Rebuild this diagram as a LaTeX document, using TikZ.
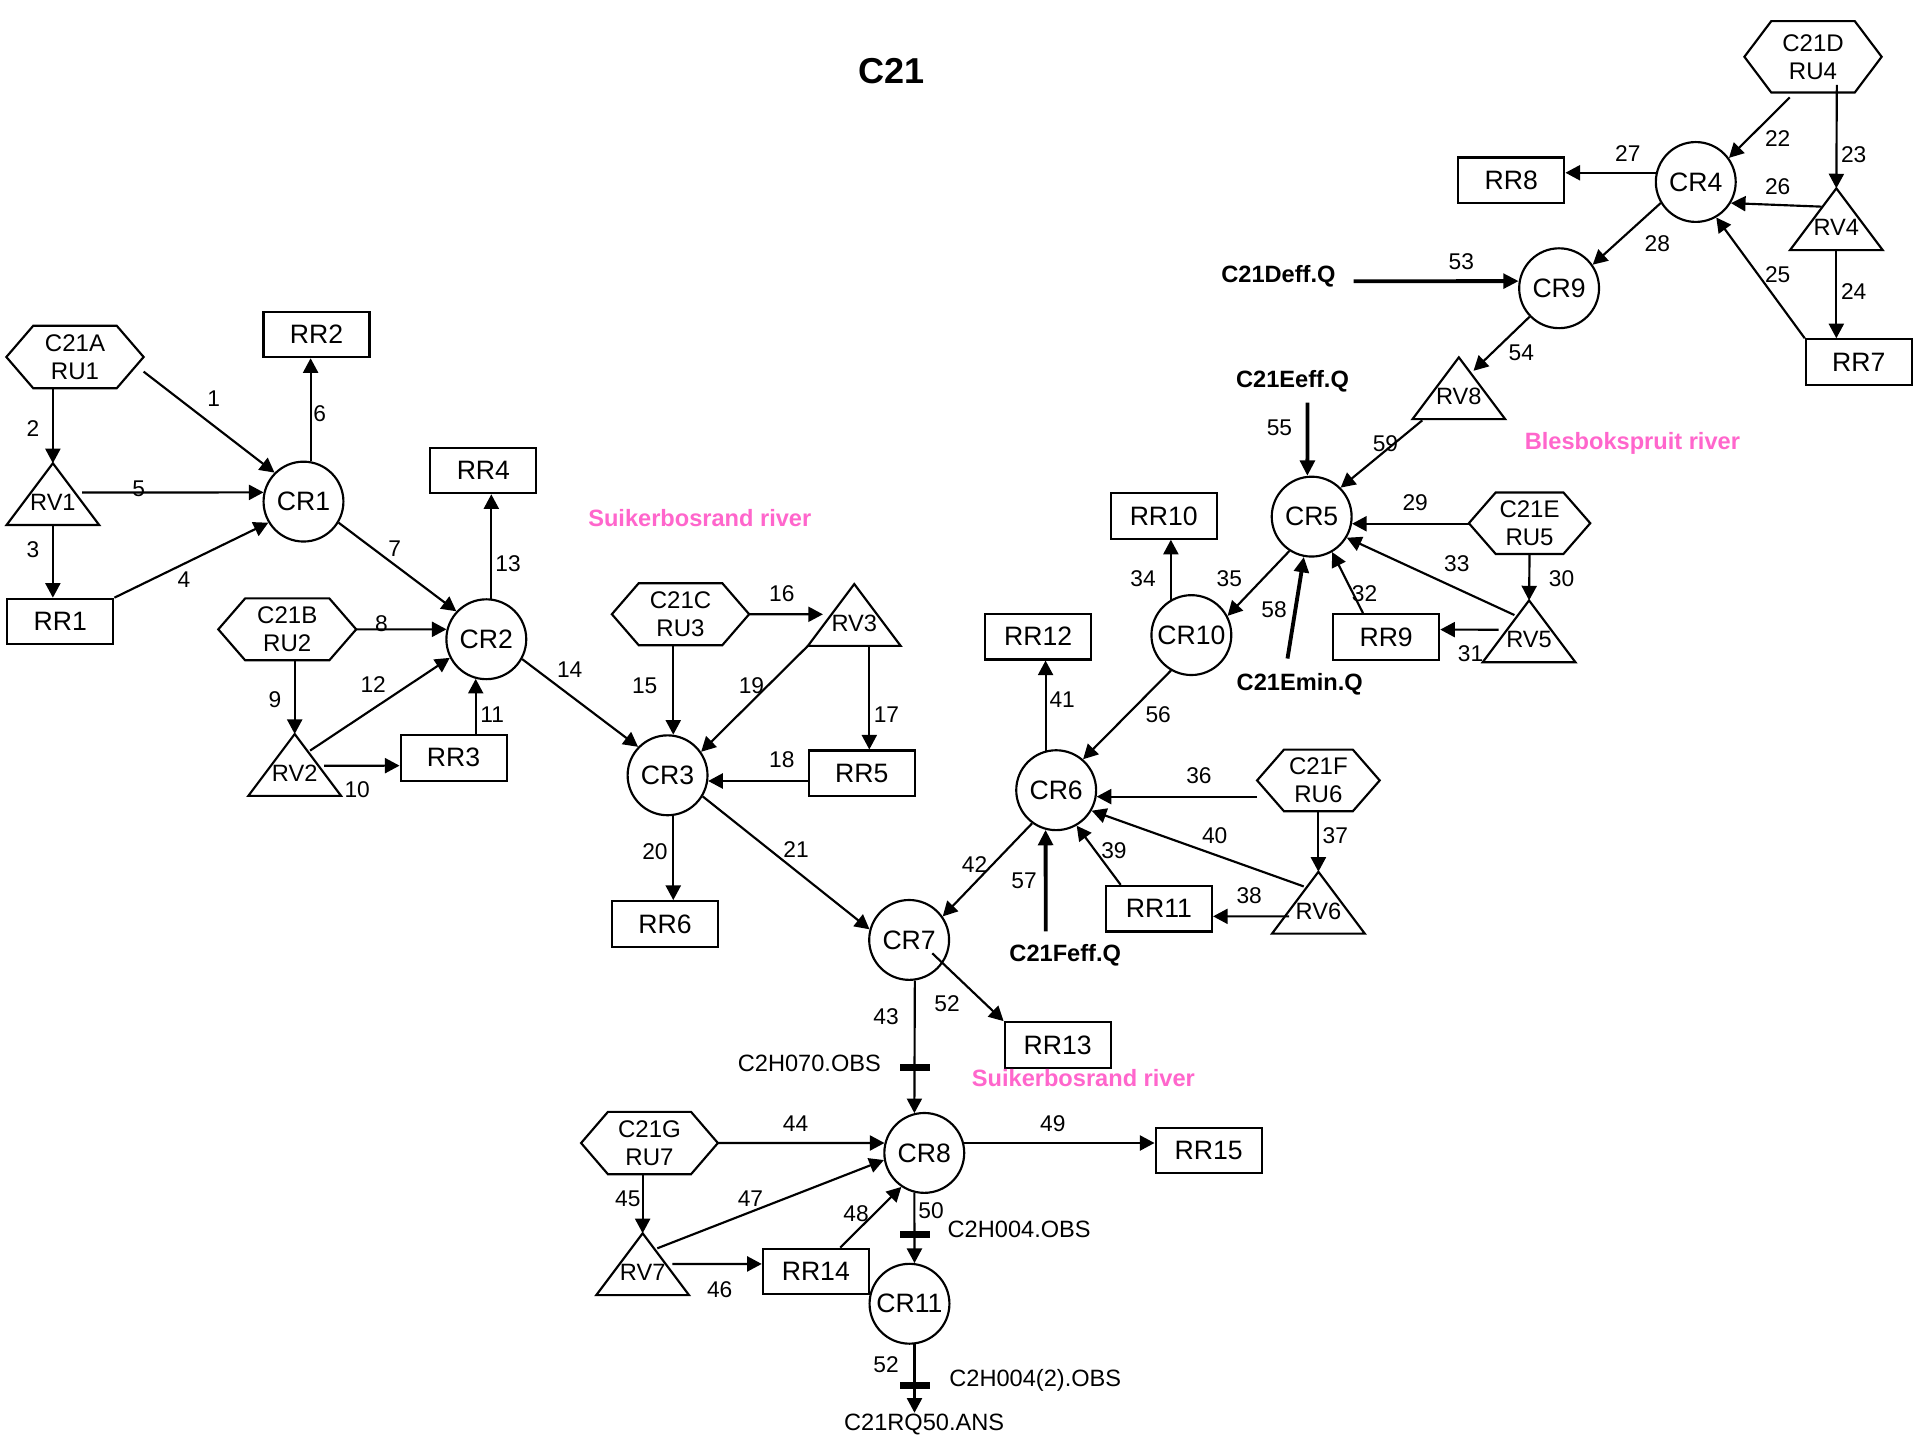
\documentclass[tikz,border=0pt]{standalone}
\usepackage{fontspec}
\setmainfont{Liberation Sans}
\usetikzlibrary{arrows.meta,calc}
\definecolor{riverpink}{HTML}{FF66CC}
\tikzset{
  shp/.style={line width=0.5pt},
  arrowline/.style={line width=0.5pt, -{Triangle[length=3.4pt,width=3.5pt]}},
  thickline/.style={line width=0.9pt, -{Triangle[length=3.6pt,width=3.4pt]}},
  cr/.style={circle, draw, line width=0.5pt, minimum size=6.54mm, inner sep=0pt, font=\fontsize{6.2}{7}\selectfont},
  rr/.style={rectangle, draw, line width=0.5pt, minimum width=8.68mm, minimum height=3.73mm, inner sep=0pt, font=\fontsize{6.2}{7}\selectfont},
  hexbox/.style={rectangle, inner sep=0pt, align=center, font=\fontsize{5.6}{6.5}\selectfont},
  tribox/.style={rectangle, inner sep=0pt, minimum width=7.45mm, minimum height=4.92mm},
  trilabel/.style={inner sep=0pt, font=\fontsize{5.5}{6}\selectfont},
  num/.style={inner sep=0pt, font=\fontsize{5.3}{6}\selectfont},
  obs/.style={inner sep=0pt, font=\fontsize{5.5}{6.5}\selectfont},
  inflow/.style={inner sep=0pt, font=\bfseries\fontsize{5.5}{6.5}\selectfont},
  river/.style={inner sep=0pt, text=riverpink, font=\bfseries\fontsize{5.5}{6.5}\selectfont},
  gauge/.style={rectangle, fill=black, inner sep=0pt, minimum width=2.45mm, minimum height=0.58mm},
}
% hexagon: name, x, y, width (mm), height (mm), text
\newcommand\hexnode[6]{%
  \node[hexbox, minimum width=#4mm, minimum height=#5mm] (#1) at (#2,#3) {#6};
  \draw[shp] (#1.west) -- ([xshift=2.2mm]#1.north west) -- ([xshift=-2.2mm]#1.north east)
    -- (#1.east) -- ([xshift=-2.2mm]#1.south east) -- ([xshift=2.2mm]#1.south west) -- cycle;
}
% triangle: name, apex x, apex y, text
\newcommand\trinode[4]{%
  \node[tribox, anchor=north] (#1) at (#2,#3) {};
  \draw[shp] (#1.north) -- (#1.south east) -- (#1.south west) -- cycle;
  \node[trilabel] (#1t) at ([yshift=-0.68mm]#1.center) {#4};
}
\begin{document}
\begin{tikzpicture}[x=0.1mm, y=-0.1mm]
\fill[white] (0,0) rectangle (1568,1179.1);
\useasboundingbox (0,0) rectangle (1568,1179.1);

\node[inner sep=0pt, font=\bfseries\fontsize{8.4}{10}\selectfont] (title) at (730,58) {C21};

% runoff units
\hexnode{A1}{61.4}{292.3}{11.1}{4.97}{C21A\\RU1}
\hexnode{B1}{235.2}{515.3}{11.15}{4.93}{C21B\\RU2}
\hexnode{C1}{557.2}{502.9}{11.1}{4.94}{C21C\\RU3}
\hexnode{D1}{1484.5}{46.5}{11.1}{5.7}{C21D\\RU4}
\hexnode{E1}{1252.4}{428.4}{9.8}{4.9}{C21E\\RU5}
\hexnode{F1}{1079.5}{639}{9.9}{4.9}{C21F\\RU6}
\hexnode{G1}{531.8}{935.9}{11.06}{4.97}{C21G\\RU7}

% reservoirs
\trinode{RV1}{43.3}{379.3}{RV1}
\trinode{RV2}{241.3}{601}{RV2}
\trinode{RV3}{699.5}{478.2}{RV3}
\trinode{RV4}{1503.6}{154.2}{RV4}
\trinode{RV5}{1252}{491.6}{RV5}
\trinode{RV6}{1079.5}{713.8}{RV6}
\trinode{RV7}{526.2}{1009.8}{RV7}
\trinode{RV8}{1194.5}{292.6}{RV8}

% channel reaches
\node[cr] (CR1) at (248.5,410.7) {CR1};
\node[cr] (CR2) at (398.2,523.4) {CR2};
\node[cr] (CR3) at (546.6,634.8) {CR3};
\node[cr] (CR4) at (1388.5,149) {CR4};
\node[cr] (CR5) at (1074,423) {CR5};
\node[cr] (CR6) at (864.8,647) {CR6};
\node[cr] (CR7) at (744.4,769.6) {CR7};
\node[cr] (CR8) at (756.8,944) {CR8};
\node[cr] (CR9) at (1276.6,236) {CR9};
\node[cr] (CR10) at (975.5,520) {CR10};
\node[cr] (CR11) at (744.7,1067.5) {CR11};

% return routes
\node[rr] (RR1) at (49.4,508.9) {RR1};
\node[rr] (RR2) at (259.2,273.8) {RR2};
\node[rr] (RR3) at (371.4,620.5) {RR3};
\node[rr] (RR4) at (395.8,385.2) {RR4};
\node[rr] (RR5) at (705.6,633.2) {RR5};
\node[rr] (RR6) at (544.5,756.5) {RR6};
\node[rr] (RR7) at (1522,296.5) {RR7};
\node[rr] (RR8) at (1237.5,147.6) {RR8};
\node[rr] (RR9) at (1135,521.5) {RR9};
\node[rr] (RR10) at (952.9,422.4) {RR10};
\node[rr] (RR11) at (949,744) {RR11};
\node[rr] (RR12) at (850,521.3) {RR12};
\node[rr] (RR13) at (866,855.6) {RR13};
\node[rr] (RR14) at (668,1041) {RR14};
\node[rr] (RR15) at (989.6,942) {RR15};

% external inflows and outputs
\node[inflow] (Deff) at (1046.8,226) {C21Deff.Q};
\node[inflow] (Eeff) at (1058.3,312.5) {C21Eeff.Q};
\node[inflow] (Emin) at (1064.2,560.3) {C21Emin.Q};
\node[inflow] (Feff) at (872.2,782.5) {C21Feff.Q};
\node[obs] (obs1) at (662.7,870.6) {C2H070.OBS};
\node[obs] (obs2) at (834.5,1006.6) {C2H004.OBS};
\node[obs] (obs3) at (847.7,1129.9) {C2H004(2).OBS};
\node[obs] (ANS) at (756.7,1166) {C21RQ50.ANS};
\coordinate (s53) at (1108.3,230.3);
\coordinate (s55) at (1070.6,329.7);
\coordinate (s57) at (856.3,762.6);
\coordinate (s58) at (1054.2,539.2);

% river names
\node[river] (riv1) at (573,424) {Suikerbosrand river};
\node[river] (riv2) at (1336.6,363) {Blesbokspruit river};
\node[river] (riv3) at (887.1,882.9) {Suikerbosrand river};

% connectors
\draw[arrowline] ($(A1.east)+(0,12)$) -- (CR1.135);
\draw[arrowline] (RV1.north |- A1.south) -- (RV1.north);
\draw[arrowline] (RV1.south) -- (RV1.south |- RR1.north);
\draw[arrowline] (RR1.north east) -- (CR1.211);
\draw[arrowline] ($(RV1.north)+(24,24)$) -- (CR1.167);
\draw[arrowline] (CR1.80) -- (CR1.80 |- RR2.south);
\draw[arrowline] (CR1.329) -- (CR2.137);
\draw[arrowline] (B1.east) -- (CR2.166);
\draw[arrowline] (RV2.north |- B1.south) -- (RV2.north);
\draw[arrowline] ($(RV2.north)+(24,26)$) -- ($(RR3.west)+(0,6.4)$);
\draw[arrowline] (CR2.255 |- RR3.north) -- (CR2.255);
\draw[arrowline] ($(RV2.north)+(12.6,13.6)$) -- (CR2.207);
\draw[arrowline] (CR2.83) -- (CR2.83 |- RR4.south);
\draw[arrowline] (CR2.331) -- (CR3.136);
\draw[arrowline] (CR3.82 |- C1.south) -- (CR3.82);
\draw[arrowline] (C1.east) -- ($(RV3.north)+(-25.7,24.8)$);
\draw[arrowline] ($(RV3.south)+(12.3,0)$) -- ($(RR5.north)+(6.2,0)$);
\draw[arrowline] (RR5.west |- CR3.352) -- (CR3.352);
\draw[arrowline] (RV3.south west) -- (CR3.35);
\draw[arrowline] (CR3.278) -- (CR3.278 |- RR6.north);
\draw[arrowline] (CR3.329) -- (CR7.165);
\draw[arrowline] ($(D1.south)+(-19,4)$) -- (CR4.36);
\draw[arrowline] ($(D1.center)+(19.5,23)$) -- (RV4.north);
\draw[arrowline] (RV4.south) -- (RV4.south |- RR7.north);
\draw[arrowline] (RR7.north west) -- (CR4.300);
\draw[arrowline] ($(RV4.north)+(-12,15)$) -- (CR4.329);
\draw[arrowline] (CR4.167) -- (CR4.167 -| RR8.east);
\draw[arrowline] (CR4.211) -- (CR9.35);
\draw[arrowline] (E1.west |- CR5.350) -- (CR5.350);
\draw[arrowline] (E1.south) -- (RV5.north);
\draw[arrowline] ($(RV5.north)+(-25,24)$) -- ($(RR9.east)+(0,-6)$);
\draw[arrowline] ($(RR9.north)+(-19,0)$) -- (CR5.300);
\draw[arrowline] ($(RV5.north)+(-12,12)$) -- (CR5.329);
\draw[arrowline] (CR10.120) -- (CR10.120 |- RR10.south);
\draw[arrowline] (CR5.237) -- (CR10.28);
\draw[arrowline] (F1.west |- CR6.351) -- (CR6.351);
\draw[arrowline] (F1.south) -- (RV6.north);
\draw[arrowline] ($(RV6.north)+(-24,36.5)$) -- ($(RR11.east)+(0,6.3)$);
\draw[arrowline] ($(RR11.north)+(-31.4,0)$) -- (CR6.300);
\draw[arrowline] ($(RV6.north)+(-12,12)$) -- (CR6.330);
\draw[arrowline] (CR6.105) -- (CR6.105 |- RR12.south);
\draw[arrowline] (CR6.234) -- (CR7.35);
\draw[arrowline] (CR7.278) -- (CR8.104);
\draw[arrowline] (G1.east) -- (CR8.166);
\draw[arrowline] (RV7.north |- G1.south) -- (RV7.north);
\draw[arrowline] ($(RV7.north)+(24.4,25.1)$) -- ($(RR14.west)+(0,-6.1)$);
\draw[arrowline] ($(RV7.north)+(12,12.3)$) -- (CR8.190);
\draw[arrowline] ($(RR14.north)+(20,0)$) -- (CR8.236);
\draw[arrowline] (CR8.14) -- (CR8.14 -| RR15.west);
\draw[arrowline] (CR8.256) -- (CR11.83);
\draw[arrowline] ($(CR7.center)+(19,11)$) -- (RR13.north west);
\draw[arrowline] (CR11.277) -- (CR11.277 |- ANS.north);
\draw[thickline] (s53) -- (CR9.170);
\draw[arrowline] (CR9.224) -- ($(RV8.north)+(12,11)$);
\draw[thickline] (s55) -- (CR5.96);
\draw[arrowline] (CR10.240) -- (CR6.49);
\draw[thickline] (s57) -- (CR6.255);
\draw[thickline] (s58) -- (CR5.259);
\draw[arrowline] ($(RV8.south west)+(8,1)$) -- (CR5.45);

% gauging stations
\node[gauge] (g1) at (749,874) {};
\node[gauge] (g2) at (749,1010.5) {};
\node[gauge] (g3) at (749,1134.3) {};

% connector numbers
\node[num] (l1) at (174.9,326.1) {1};
\node[num] (l2) at (26.9,350.7) {2};
\node[num] (l3) at (26.9,449.8) {3};
\node[num] (l4) at (150.6,474.9) {4};
\node[num] (l5) at (113.5,399.8) {5};
\node[num] (l6) at (261.7,338.4) {6};
\node[num] (l7) at (323.1,449) {7};
\node[num] (l8) at (312.4,510.4) {8};
\node[num] (l9) at (225.2,573.1) {9};
\node[num] (l10) at (292.5,646.8) {10};
\node[num] (l11) at (403,585.4) {11};
\node[num] (l12) at (305.6,560.9) {12};
\node[num] (l13) at (416,461.5) {13};
\node[num] (l14) at (466.5,548.6) {14};
\node[num] (l15) at (527.9,561.7) {15};
\node[num] (l16) at (640.1,485.8) {16};
\node[num] (l17) at (725.8,585.4) {17};
\node[num] (l18) at (640.1,622.3) {18};
\node[num] (l19) at (615.3,561.7) {19};
\node[num] (l20) at (536.3,697.3) {20};
\node[num] (l21) at (651.8,696) {21};
\node[num] (l22) at (1455.6,113.3) {22};
\node[num] (l23) at (1517.8,126.9) {23};
\node[num] (l24) at (1517.8,238.8) {24};
\node[num] (l25) at (1455.6,225.2) {25};
\node[num] (l26) at (1455.6,152.9) {26};
\node[num] (l27) at (1332.8,125.5) {27};
\node[num] (l28) at (1357,199.2) {28};
\node[num] (l29) at (1158.8,411.7) {29};
\node[num] (l30) at (1278.6,474) {30};
\node[num] (l31) at (1204.1,535.4) {31};
\node[num] (l32) at (1117.3,486.3) {32};
\node[num] (l33) at (1192.8,461.7) {33};
\node[num] (l34) at (936,474) {34};
\node[num] (l35) at (1006.6,474) {35};
\node[num] (l36) at (981.7,634.8) {36};
\node[num] (l37) at (1093.4,684.5) {37};
\node[num] (l38) at (1022.8,733.7) {38};
\node[num] (l39) at (912.1,696.2) {39};
\node[num] (l40) at (994.6,684.5) {40};
\node[num] (l41) at (869.7,573) {41};
\node[num] (l42) at (798,708.2) {42};
\node[num] (l43) at (725.5,832.4) {43};
\node[num] (l44) at (651.4,919.8) {44};
\node[num] (l45) at (514.1,981.2) {45};
\node[num] (l46) at (589.3,1055.7) {46};
\node[num] (l47) at (614.5,981.2) {47};
\node[num] (l48) at (701,993.5) {48};
\node[num] (l49) at (862,919.8) {49};
\node[num] (l50) at (762.3,991.3) {50};
\node[num] (l52a) at (775.5,821.5) {52};
\node[num] (l52b) at (725.5,1117.6) {52};
\node[num] (l53) at (1196.5,214.3) {53};
\node[num] (l54) at (1245.6,288.8) {54};
\node[num] (l55) at (1047.6,350.5) {55};
\node[num] (l56) at (948.3,585.1) {56};
\node[num] (l57) at (838.5,721.5) {57};
\node[num] (l58) at (1043.2,498.9) {58};
\node[num] (l59) at (1134.4,363) {59};
\end{tikzpicture}
\end{document}
